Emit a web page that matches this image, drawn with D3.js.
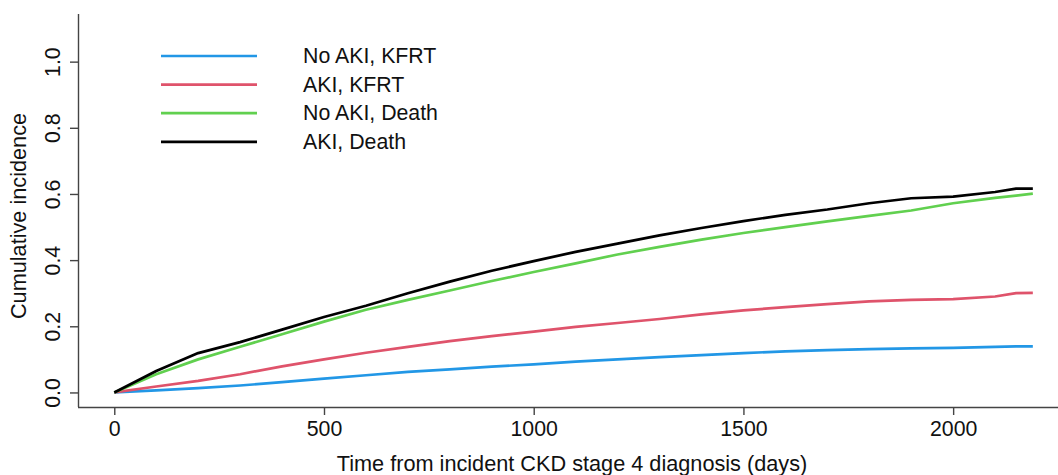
<!DOCTYPE html>
<html><head><meta charset="utf-8">
<script src="https://cdn.jsdelivr.net/npm/d3@7"></script>
<style>body{margin:0;background:#fff}svg{display:block}text{font-family:"Liberation Sans",Arial,sans-serif;fill:#111}</style>
</head><body><svg id="c" width="1058" height="475"></svg>
<script>
const days = [0,100,200,300,400,500,600,700,800,900,1000,1100,1200,1300,1400,1500,1600,1700,1800,1900,2000,2100,2150,2190];
const noAkiKfrt = [0,0.006,0.013,0.021,0.031,0.042,0.052,0.062,0.070,0.078,0.085,0.093,0.100,0.107,0.113,0.119,0.124,0.128,0.131,0.133,0.135,0.138,0.139,0.139];
const akiKfrt   = [0,0.018,0.035,0.055,0.079,0.100,0.120,0.138,0.155,0.170,0.184,0.198,0.210,0.222,0.236,0.248,0.258,0.267,0.275,0.280,0.282,0.290,0.300,0.301];
const noAkiDeath= [0,0.055,0.100,0.138,0.176,0.214,0.250,0.280,0.308,0.337,0.364,0.390,0.417,0.440,0.462,0.482,0.500,0.517,0.534,0.550,0.572,0.588,0.595,0.601];
const akiDeath  = [0,0.065,0.119,0.152,0.190,0.228,0.262,0.300,0.335,0.368,0.397,0.425,0.450,0.475,0.497,0.518,0.537,0.553,0.572,0.587,0.592,0.606,0.616,0.616];
const seriesNames = ["No AKI, KFRT","AKI, KFRT","No AKI, Death","AKI, Death"];
const seriesColors = ["#2297E6","#DF536B","#61D04F","#000000"];
const xTicks = [0,500,1000,1500,2000];
const yTicks = [0,0.2,0.4,0.6,0.8,1.0];
const allSeries = [noAkiKfrt, akiKfrt, noAkiDeath, akiDeath];

const svg = d3.select("#c");
const x = d3.scaleLinear().domain([-86.5, 2250]).range([78, 1058]);
const y = d3.scaleLinear().domain([-0.044, 1.144]).range([407, 14]);
const fs = 21.3;

// axes
const gx = svg.append("g").attr("transform","translate(0,407)")
  .call(d3.axisBottom(x).tickValues(xTicks).tickSize(8).tickPadding(6).tickFormat(d3.format("d")));
const gy = svg.append("g").attr("transform","translate(78,0)")
  .call(d3.axisLeft(y).tickValues(yTicks).tickSize(8).tickFormat(d3.format(".1f")));
[gx,gy].forEach(g=>{
  g.select(".domain").attr("stroke","#444").attr("stroke-width",1.4);
  g.selectAll(".tick line").attr("stroke","#444").attr("stroke-width",1.4);
  g.selectAll("text").style("font-size",fs+"px").attr("fill","#111");
});
gx.select(".domain").attr("d","M78,0.5H1058");
gy.select(".domain").attr("d","M0.5,14V407");
gy.selectAll(".tick text").attr("x",null).attr("dy",null)
  .attr("transform","translate(-25,0) rotate(-90)").attr("text-anchor","middle").attr("dominant-baseline","central");

// titles
svg.append("text").attr("x",572).attr("y",471).attr("text-anchor","middle").style("font-size","21.7px")
  .text("Time from incident CKD stage 4 diagnosis (days)");
svg.append("text").attr("transform","translate(26,216) rotate(-90)").attr("text-anchor","middle").style("font-size","21.7px")
  .text("Cumulative incidence");

// lines
const line = d3.line().x((d,i)=>x(days[i])).y(d=>y(d)).curve(d3.curveLinear);
allSeries.forEach((s,k)=>{
  svg.append("path").datum(s).attr("d",line).attr("fill","none")
    .attr("stroke",seriesColors[k]).attr("stroke-width",2.7).attr("stroke-linejoin","round");
});

// legend
const ly0 = 56, ldy = 28.6;
seriesNames.forEach((n,k)=>{
  const yy = ly0 + k*ldy;
  svg.append("line").attr("x1",161).attr("x2",257).attr("y1",yy).attr("y2",yy)
    .attr("stroke",seriesColors[k]).attr("stroke-width",2.7);
  svg.append("text").attr("x",303).attr("y",yy).attr("dominant-baseline","central").style("font-size",fs+"px").text(n);
});
</script></body></html>
